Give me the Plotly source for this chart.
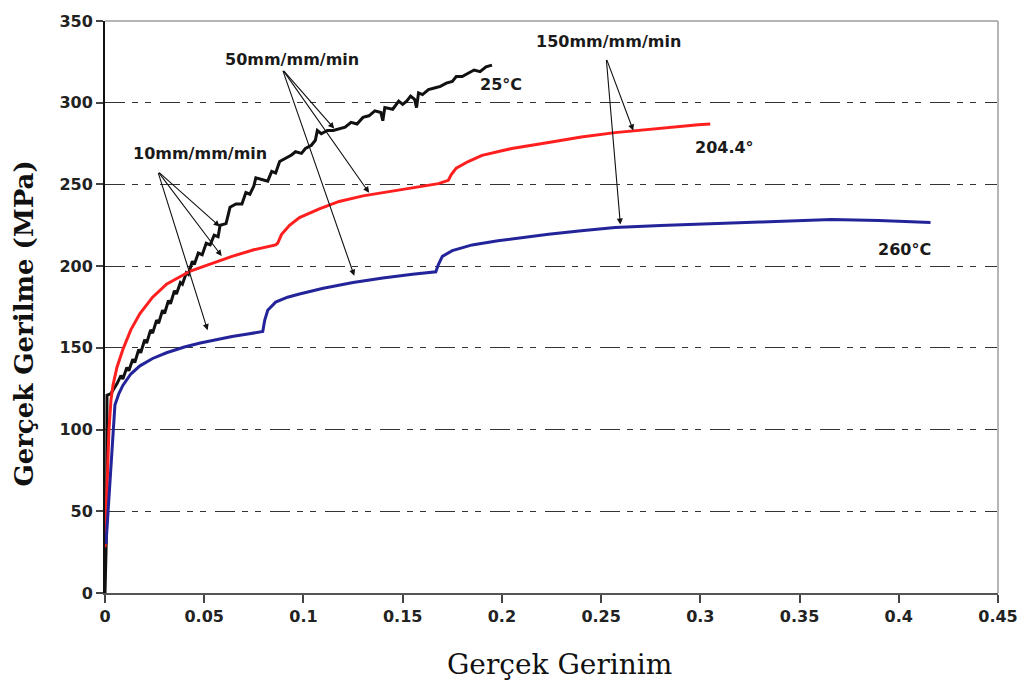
import plotly.graph_objects as go

# True stress-strain curves of a tensile test at three temperatures
# (strain-rate jumps 10 -> 50 -> 150 mm/mm/min are visible as steps)

strain_25C = [0.0, 0.0008, 0.0010, 0.003, 0.006, 0.008, 0.009, 0.011, 0.012, 0.014,
              0.015, 0.017, 0.018, 0.020, 0.021, 0.023, 0.024, 0.026, 0.027, 0.029,
              0.030, 0.032, 0.033, 0.035, 0.036, 0.038, 0.039, 0.041, 0.042, 0.044,
              0.045, 0.047, 0.049, 0.051, 0.053, 0.055, 0.057, 0.058, 0.061, 0.063,
              0.066, 0.069, 0.071, 0.073, 0.075, 0.076, 0.079, 0.082, 0.084, 0.086,
              0.088, 0.091, 0.094, 0.096, 0.099, 0.101, 0.104, 0.106, 0.107, 0.109,
              0.112, 0.115, 0.118, 0.121, 0.124, 0.127, 0.130, 0.133, 0.136, 0.139,
              0.140, 0.141, 0.145, 0.148, 0.150, 0.152, 0.154, 0.156, 0.157, 0.158,
              0.160, 0.163, 0.166, 0.169, 0.172, 0.175, 0.177, 0.180, 0.183, 0.186,
              0.189, 0.192, 0.195]
stress_25C = [0, 40, 121, 122, 128, 133, 131, 138, 136, 143,
              141, 149, 147, 155, 153, 161, 159, 167, 165, 173,
              171, 179, 177, 185, 183, 190, 189, 196, 195, 203,
              201, 208, 207, 214, 213, 219, 218, 225, 226, 236,
              238, 238, 245, 244, 249, 254, 253, 252, 258, 257,
              264, 266, 268, 270, 269, 272, 274, 277, 283, 281,
              283, 283, 284, 285, 288, 287, 291, 292, 295, 294,
              289, 297, 296, 301, 299, 301, 304, 302, 297, 306,
              305, 308, 309, 310, 312, 313, 316, 316, 318, 320,
              319, 322, 323]

strain_204C = [0.0, 0.001, 0.002, 0.003, 0.004, 0.006, 0.009, 0.013, 0.0176, 0.024,
               0.031, 0.043, 0.055, 0.064, 0.075, 0.086, 0.087, 0.089, 0.093, 0.098,
               0.108, 0.118, 0.130, 0.143, 0.157, 0.168, 0.173, 0.1745, 0.177, 0.183,
               0.190, 0.205, 0.2235, 0.240, 0.257, 0.280, 0.299, 0.305]
stress_204C = [28, 60, 100, 118, 127, 138, 149, 161, 171, 181,
               189, 197, 202, 206, 210, 213, 214, 219.5, 225, 229.7,
               235, 239.6, 243, 245.6, 248.5, 250.5, 252.5, 256, 260, 264,
               267.8, 272, 275.7, 279, 281.7, 284.5, 286.5, 287]

strain_260C = [0.0005, 0.002, 0.004, 0.005, 0.007, 0.009, 0.013, 0.0176, 0.024, 0.031,
               0.040, 0.048, 0.056, 0.064, 0.072, 0.0795, 0.0805, 0.082, 0.086, 0.092,
               0.098, 0.110, 0.125, 0.140, 0.155, 0.1667, 0.168, 0.170, 0.175,
               0.185, 0.198, 0.210, 0.2235, 0.240, 0.257, 0.280, 0.299, 0.330, 0.366,
               0.390, 0.416]
stress_260C = [30, 60, 100, 115, 122, 127, 134, 139, 143.5, 147,
               150.5, 153, 155, 157, 158.5, 160, 167, 173, 178, 181,
               183, 186.5, 190, 192.8, 195, 196.5, 201, 206, 209.5,
               213, 215.5, 217.5, 219.5, 221.7, 223.7, 224.8, 225.5, 227, 228.5,
               228, 226.7]

x_ticks = [0, 0.05, 0.1, 0.15, 0.2, 0.25, 0.3, 0.35, 0.4, 0.45]
x_tick_text = ["0", "0.05", "0.1", "0.15", "0.2", "0.25", "0.3", "0.35", "0.4", "0.45"]
y_ticks = [0, 50, 100, 150, 200, 250, 300, 350]

# strain-rate labels: (text, label x, label y, arrow tail x, tail y, [(tip x, tip y), ...])
rate_labels = [
    ("10mm/mm/min", 0.0477, 269, 0.0266, 258,
     [(0.0578, 224.3), (0.0588, 206.2), (0.0517, 160.8)]),
    ("50mm/mm/min", 0.0944, 326.5, 0.0894, 320.4,
     [(0.1155, 284.2), (0.1331, 244.9), (0.1256, 194.1)]),
    ("150mm/mm/min", 0.2536, 337.4, 0.2526, 327.1,
     [(0.2662, 283.0), (0.2597, 225.5)]),
]
temp_labels = [("25°C", 0.1994, 311.4), ("204.4°", 0.3124, 272.7), ("260°C", 0.4028, 210.4)]

label_font = dict(family="DejaVu Sans", size=16, color="#1a1a1a")
tick_font = dict(family="DejaVu Sans", size=16, color="#222222", weight="bold")

fig = go.Figure()
fig.add_trace(go.Scatter(x=strain_25C, y=stress_25C, mode="lines",
                         line=dict(color="#111111", width=3), name="25°C"))
fig.add_trace(go.Scatter(x=strain_204C, y=stress_204C, mode="lines",
                         line=dict(color="#ff1f1f", width=3), name="204.4°"))
fig.add_trace(go.Scatter(x=strain_260C, y=stress_260C, mode="lines",
                         line=dict(color="#24249a", width=3), name="260°C"))

annotations = []
for text, lx, ly, tx, ty, tips in rate_labels:
    annotations.append(dict(x=lx, y=ly, xref="x", yref="y", text="<b>%s</b>" % text,
                            showarrow=False, font=label_font))
    for hx, hy in tips:
        annotations.append(dict(x=hx, y=hy, ax=tx, ay=ty, xref="x", yref="y",
                                axref="x", ayref="y", text="", showarrow=True,
                                arrowhead=2, arrowsize=1.1, arrowwidth=1.1,
                                arrowcolor="#111111"))
for text, lx, ly in temp_labels:
    annotations.append(dict(x=lx, y=ly, xref="x", yref="y", text="<b>%s</b>" % text,
                            showarrow=False, font=label_font))

# axis titles
annotations.append(dict(x=0.509, y=-0.1244, xref="paper", yref="paper",
                        text="Gerçek Gerinim", showarrow=False,
                        xanchor="center", yanchor="middle",
                        font=dict(family="DejaVu Serif", size=28, color="#111111")))
annotations.append(dict(x=-0.0904, y=0.4715, xref="paper", yref="paper",
                        text="<b>Gerçek Gerilme (MPa)</b>", showarrow=False, textangle=-90,
                        xanchor="center", yanchor="middle",
                        font=dict(family="DejaVu Serif", size=26, color="#111111")))

fig.update_layout(
    width=1030, height=689,
    margin=dict(l=105, r=29, t=14, b=96),
    paper_bgcolor="white", plot_bgcolor="white",
    showlegend=False,
    annotations=annotations,
    shapes=[
        dict(type="line", xref="paper", yref="paper", x0=0, x1=1, y0=1, y1=1,
             line=dict(color="#b5b5b5", width=2), layer="above"),
        dict(type="line", xref="paper", yref="paper", x0=1, x1=1, y0=0, y1=1,
             line=dict(color="#b5b5b5", width=2), layer="above"),
    ],
)
fig.update_xaxes(range=[0, 0.45], tickvals=x_ticks, ticktext=x_tick_text,
                 showgrid=False, zeroline=False,
                 showline=True, linecolor="#555555", linewidth=2,
                 ticks="outside", ticklen=8, tickwidth=1.5, tickcolor="#444444",
                 tickfont=tick_font)
fig.update_yaxes(range=[0, 350], tickvals=y_ticks,
                 showgrid=True, gridcolor="#333333", gridwidth=1.4,
                 griddash="20px,7px,6px,7px,6px,9px",
                 zeroline=False,
                 showline=True, linecolor="#111111", linewidth=2,
                 ticks="outside", ticklen=7, tickwidth=1.5, tickcolor="#444444",
                 tickfont=tick_font)
fig.update_traces(hoverinfo="skip")

fig.write_html("out.html")
